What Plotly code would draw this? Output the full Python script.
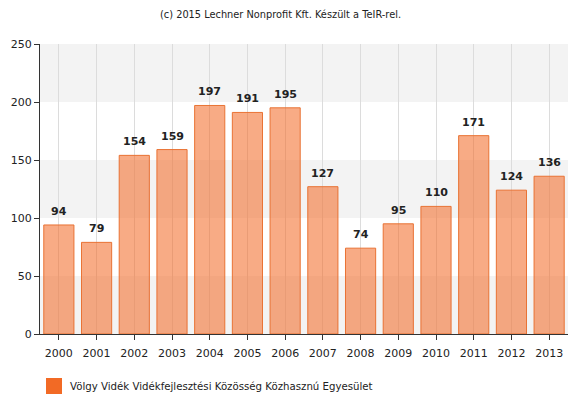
import plotly.graph_objects as go

# Data
years = ["2000", "2001", "2002", "2003", "2004", "2005", "2006",
         "2007", "2008", "2009", "2010", "2011", "2012", "2013"]
values = [94, 79, 154, 159, 197, 191, 195, 127, 74, 95, 110, 171, 124, 136]
y_ticks = [0, 50, 100, 150, 200, 250]
series_name = "Völgy Vidék Vidékfejlesztési Közösség Közhasznú Egyesület"
title_text = "(c) 2015 Lechner Nonprofit Kft. Készült a TeIR-rel."

FONT = "DejaVu Sans"
ORANGE = "rgb(242,106,37)"

fig = go.Figure()
fig.add_trace(go.Bar(
    x=years, y=values, name=series_name,
    marker=dict(color="rgba(242,106,37,0.56)",
                line=dict(color="rgba(232,110,45,0.95)", width=1)),
    width=0.8, showlegend=False, hoverinfo="x+y",
))

# alternating horizontal bands between y ticks
shapes = []
for i in range(len(y_ticks) - 1):
    if i % 2 == 0:
        shapes.append(dict(type="rect", xref="paper", yref="y", layer="below",
                           x0=0, x1=1, y0=y_ticks[i], y1=y_ticks[i + 1],
                           fillcolor="rgb(243,243,243)", line=dict(width=0)))

# legend swatch drawn manually
shapes.append(dict(type="rect", xref="paper", yref="paper",
                   x0=(46 - 40) / 528, x1=(62 - 40) / 528,
                   y0=(334 - 394) / 290, y1=(334 - 378) / 290,
                   fillcolor=ORANGE, line=dict(width=0)))

annotations = []
# value labels above each bar (category index used as x position)
for i, v in enumerate(values):
    annotations.append(dict(x=i, y=v, xref="x", yref="y",
                            text=f"<b>{v}</b>", showarrow=False,
                            yanchor="bottom", yshift=5,
                            font=dict(family=FONT, size=11, color="#222")))
annotations.append(dict(xref="paper", yref="paper", x=(68 - 40) / 528,
                        y=(334 - 386) / 290, xanchor="left", yanchor="middle",
                        text=series_name, showarrow=False,
                        font=dict(family=FONT, size=10.2, color="#222")))
annotations.append(dict(xref="paper", yref="paper", x=(280 - 40) / 528,
                        y=(334 - 14) / 290, xanchor="center", yanchor="middle",
                        text=title_text, showarrow=False,
                        font=dict(family=FONT, size=9.8, color="#222")))

fig.update_layout(
    width=568, height=398,
    margin=dict(l=40, r=0, t=44, b=64),
    paper_bgcolor="white", plot_bgcolor="white",
    shapes=shapes, annotations=annotations,
    bargap=0.2,
    font=dict(family=FONT, size=10, color="#222"),
)
fig.update_xaxes(
    type="category", range=[-0.5, len(years) - 0.5],
    showgrid=True, gridcolor="rgb(220,220,220)", gridwidth=1,
    showline=True, linecolor="#333", linewidth=1,
    ticks="outside", ticklen=5, tickcolor="#333",
    ticklabelstandoff=4,
    tickfont=dict(family=FONT, size=11, color="#222"),
)
fig.update_yaxes(
    range=[0, 250], tickvals=y_ticks,
    showgrid=False, zeroline=False,
    showline=True, linecolor="#333", linewidth=1,
    ticks="outside", ticklen=5, tickcolor="#333",
    tickfont=dict(family=FONT, size=11, color="#222"),
)

fig.write_html("out.html")
